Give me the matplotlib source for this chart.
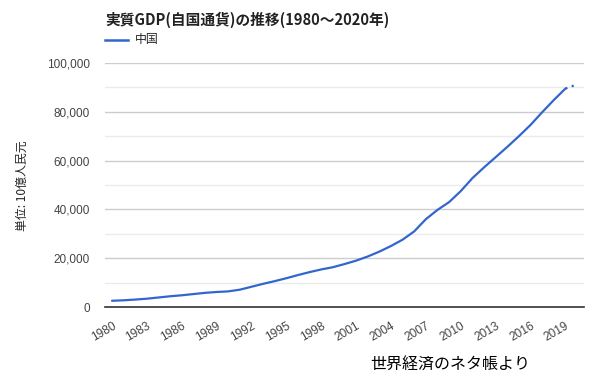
import matplotlib
matplotlib.use("Agg")
import matplotlib.pyplot as plt
from matplotlib.ticker import FuncFormatter, MultipleLocator

years = list(range(1980, 2021))
gdp = [2550, 2750, 3050, 3400, 3900, 4400, 4800, 5300, 5800, 6150,
       6400, 7100, 8300, 9500, 10600, 11800, 13100, 14300, 15400, 16300,
       17600, 19000, 20700, 22700, 25000, 27600, 31000, 36000, 39800, 43000,
       47500, 52800, 57200, 61400, 65600, 70000, 74600, 79800, 84800, 89500,
       91200]
series_name = "中国"
title = "実質GDP(自国通貨)の推移(1980〜2020年)"
ylabel = "単位: 10億人民元"
source = "世界経済のネタ帳より"
xticks = list(range(1980, 2020, 3))

CJK = ["Noto Sans CJK JP", "DejaVu Sans"]
LAT = ["Liberation Sans", "DejaVu Sans"]

W, H = 597, 386
fig = plt.figure(figsize=(W / 100, H / 100), dpi=100)
ax = fig.add_axes([105 / W, 79 / H, (584 - 105) / W, (307 - 63) / H])

color = "#3366CC"
ax.plot(years[:-1], gdp[:-1], color=color, lw=1.6, solid_capstyle="round", zorder=3)
ax.plot(years[-2:], gdp[-2:], color=color, lw=1.6, ls=(0, (1, 2)), zorder=3)

ax.set_ylim(0, 100000)
ax.set_xlim(1980 - 7 / 11.63, 2020 + 7 / 11.63)
ax.yaxis.set_major_locator(MultipleLocator(20000))
ax.yaxis.set_minor_locator(MultipleLocator(10000))
ax.yaxis.set_major_formatter(FuncFormatter(lambda v, p: f"{int(v):,}"))
ax.grid(which="major", axis="y", color="#cccccc", lw=1)
ax.grid(which="minor", axis="y", color="#ebebeb", lw=1)
ax.set_axisbelow(True)
for s in ["top", "right", "left"]:
    ax.spines[s].set_visible(False)
ax.spines["bottom"].set_color("#333333")
ax.spines["bottom"].set_linewidth(1.2)
ax.spines["bottom"].set_zorder(4)

ax.set_xticks(xticks)
ax.set_xticklabels([str(y) for y in xticks], rotation=30, ha="right", va="top",
                   rotation_mode="anchor", fontsize=8.6, color="#444444", family=LAT)
ax.tick_params(axis="x", length=0, pad=9)
ax.tick_params(axis="y", which="both", length=0, pad=11, labelsize=8.5, labelcolor="#444444")
for lab in ax.get_yticklabels():
    lab.set_family(LAT)

fig.text(22 / W, 1 - 186 / H, ylabel, rotation=90, ha="center", va="center",
         fontsize=8.6, color="#222222", family=CJK)
fig.text(105 / W, 1 - 20 / H, title, ha="left", va="center", fontsize=10.6,
         fontweight="bold", color="#222222", family=CJK)
fig.add_artist(plt.Line2D([105 / W, 128 / W], [1 - 40 / H, 1 - 40 / H],
                          color=color, lw=1.8))
fig.text(135 / W, 1 - 40 / H, series_name, ha="left", va="center", fontsize=8.6,
         color="#222222", family=CJK)
fig.text(450 / W, 1 - 365 / H, source, ha="center", va="center", fontsize=11.5,
         color="#000000", family=CJK)

fig.savefig("out.png", dpi=100)
